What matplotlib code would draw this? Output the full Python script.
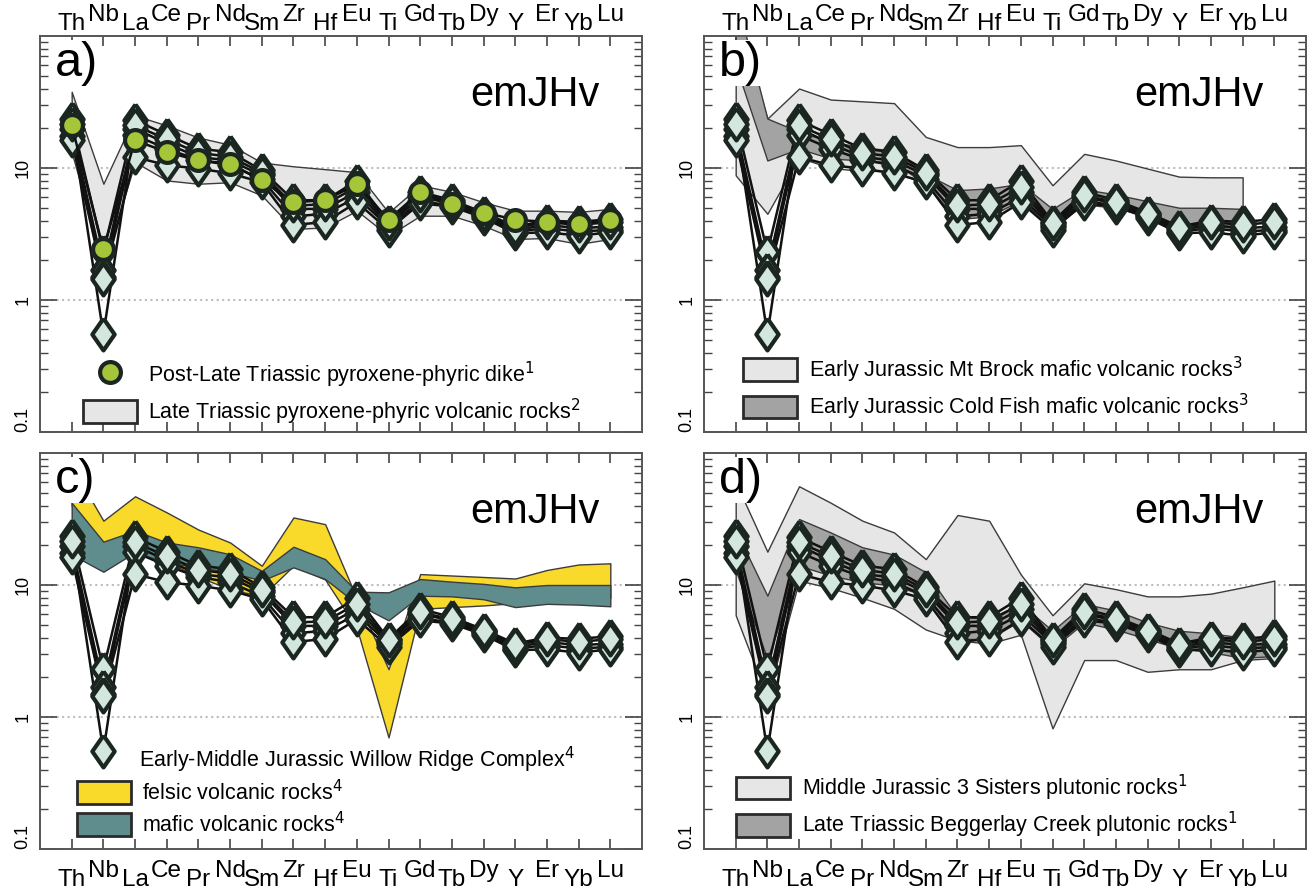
import numpy as np
import matplotlib
matplotlib.use('Agg')
import matplotlib.pyplot as plt
from matplotlib.patches import Patch
from matplotlib.lines import Line2D
from matplotlib.ticker import LogLocator, NullFormatter, FixedLocator, FixedFormatter

plt.rcParams['font.family'] = ['Liberation Sans Narrow', 'Liberation Sans', 'DejaVu Sans']

elements = ['Th', 'Nb', 'La', 'Ce', 'Pr', 'Nd', 'Sm', 'Zr', 'Hf', 'Eu',
            'Ti', 'Gd', 'Tb', 'Dy', 'Y', 'Er', 'Yb', 'Lu']
raised = [False, True] * 9
ytick_vals = [0.1, 1, 10]
ytick_labels = ['0.1', '1', '10']

# emJHv samples (diamonds)
emjhv_1 = [23.7, 2.3, 23.0, 17.9, 14.0, 13.2, 9.6, 5.7, 5.7, 8.0, 3.9, 6.6, 5.7, 4.6, 3.6, 4.0, 3.9, 4.1]
emjhv_2 = [19.9, 1.7, 19.9, 15.3, 12.1, 11.4, 8.8, 4.9, 4.9, 6.6, 3.7, 6.0, 5.4, 4.4, 3.4, 3.7, 3.5, 3.6]
emjhv_3 = [17.5, 1.5, 17.7, 14.0, 11.5, 10.5, 8.2, 4.3, 4.5, 6.0, 3.6, 5.6, 5.2, 4.3, 3.3, 3.5, 3.3, 3.4]
emjhv_4 = [16.2, 1.45, 12.1, 10.5, 9.9, 9.1, 7.8, 3.7, 3.9, 5.5, 3.4, 5.4, 5.1, 4.2, 3.2, 3.26, 3.07, 3.26]
emjhv_5 = [21.5, 0.55, 21.0, 16.5, 13.0, 12.2, 9.2, 5.2, 5.3, 7.2, 3.8, 6.2, 5.5, 4.5, 3.5, 3.9, 3.7, 3.9]
emjhv_samples = [emjhv_1, emjhv_2, emjhv_3, emjhv_4, emjhv_5]

# panel a: Post-Late Triassic pyroxene-phyric dike
dike = [21.1, 2.43, 16.2, 13.2, 11.4, 10.8, 8.05, 5.5, 5.7, 7.5, 4.06, 6.6, 5.35, 4.6, 4.06, 3.9, 3.77, 4.06]
# panel a: Late Triassic pyroxene-phyric volcanic rocks (range)
lt_volc_hi = [37.8, 7.6, 25.0, 21.0, 17.0, 15.0, 11.0, 10.3, 9.8, 9.3, 4.6, 7.4, 6.6, 5.5, 4.75, 4.75, 4.65, 4.9]
lt_volc_lo = [13.2, 1.8, 11.1, 8.05, 7.6, 7.8, 6.2, 3.45, 3.55, 4.75, 3.07, 4.35, 4.35, 3.66, 2.9, 2.95, 2.66, 2.9]

# panel b: Mt Brock and Cold Fish (no Lu)
brock_hi = [150, 23.7, 40, 33, 32, 31, 17.2, 14.4, 14.4, 14.9, 7.4, 12.8, 11.4, 9.9, 8.6, 8.5, 8.5, np.nan]
brock_lo = [8.8, 4.5, 12, 10, 9.5, 9.5, 7.5, 4.6, 4.6, 5.6, 3.6, 5.5, 5.2, 4.4, 3.6, 3.7, 3.6, np.nan]
coldfish_hi = [200, 23.7, 18.8, 15.8, 14.4, 13.5, 9.0, 6.8, 7.0, 7.6, 4.9, 6.9, 6.3, 5.6, 5.0, 5.0, 4.9, np.nan]
coldfish_lo = [60, 11.4, 14.0, 11.8, 11.4, 11.0, 7.5, 4.1, 4.3, 5.7, 3.6, 5.3, 5.0, 4.3, 3.5, 3.6, 3.5, np.nan]

# panel c: Willow Ridge Complex
felsic_hi = [80, 30.7, 47, 35.5, 26.3, 21, 14, 32.5, 28.9, 7.9, 2.3, 12.1, 11.8, 11.5, 11.2, 13.0, 14.3, 14.6]
felsic_lo = [40, 14, 20, 15, 11.5, 9.3, 8.2, 14, 11, 4.7, 0.70, 6.6, 6.8, 7.0, 7.3, 7.5, 7.8, 8.0]
mafic_hi = [42, 21.3, 25.8, 21, 19.3, 17.1, 12.8, 19.5, 15.7, 8.9, 8.8, 11.1, 10.6, 10.2, 9.6, 10.0, 10.0, 10.0]
mafic_lo = [17, 12.6, 17.7, 14.8, 13.6, 12.5, 10.8, 13.6, 11.1, 7.2, 5.4, 8.3, 8.2, 7.8, 6.8, 7.2, 7.1, 6.9]

# panel d: 3 Sisters and Beggerlay Creek plutonic rocks
sisters_hi = [60, 17.9, 56, 42, 30.7, 25, 15.7, 33.9, 30.7, 12, 5.9, 10.3, 9.3, 8.2, 8.2, 8.6, 9.6, 10.8]
sisters_lo = [5.9, 1.4, 10.8, 9.5, 8.0, 6.6, 4.6, 3.8, 3.6, 4.2, 0.82, 2.7, 2.7, 2.2, 2.3, 2.3, 2.7, 2.8]
begg_hi = [26, 8.3, 31.6, 25, 19.3, 17, 12.5, 5.7, 5.6, 7.2, 4.5, 7.2, 6.4, 5.2, 4.5, 4.3, 4.0, 3.9]
begg_lo = [13, 2.75, 14, 11.8, 10.5, 9.9, 8.3, 3.9, 3.9, 5.4, 3.3, 5.2, 4.6, 3.9, 3.3, 3.1, 2.8, 2.9]

# colours
C_DIAM = '#d3e7df'
C_EDGE = '#1c2620'
C_GREEN = '#a6c63a'
C_LIGHT = '#e6e6e6'
C_DARK = '#a3a3a3'
C_YELLOW = '#f9da2b'
C_TEAL = '#5f8c8c'
C_BAND_EDGE = '#3c3c3c'

diamond = [(0, 1), (0.7, 0), (0, -1), (-0.7, 0), (0, 1)]

fig = plt.figure(figsize=(13.08, 8.92), dpi=100)
W, H = 1308, 892
axes_px = {'a': (40, 36), 'b': (704, 36), 'c': (40, 453), 'd': (704, 453)}
AW, AH = 602, 396

x = np.arange(len(elements))

LEG_FS = 15.5
EL_FS = 17.5


def make_ax(key, top_labels):
    l, t = axes_px[key]
    ax = fig.add_axes([l / W, (H - t - AH) / H, AW / W, AH / H])
    ax.set_yscale('log')
    ax.set_ylim(0.1, 100)
    ax.set_xlim(-1, 18)
    ax.set_axisbelow(True)
    for s in ax.spines.values():
        s.set_color('#555555')
        s.set_linewidth(1.4)
    ax.set_xticks(x)
    ax.set_xticklabels([])
    ax.yaxis.set_major_locator(FixedLocator(ytick_vals))
    ax.yaxis.set_major_formatter(FixedFormatter(ytick_labels))
    ax.yaxis.set_minor_locator(LogLocator(base=10, subs=np.arange(2, 10)))
    ax.yaxis.set_minor_formatter(NullFormatter())
    ax.tick_params(axis='x', which='major', direction='in', length=7, width=1.2,
                   color='#444444', top=True, bottom=True, labelbottom=False, labeltop=False)
    ax.tick_params(axis='y', which='major', direction='in', length=12, width=1.2,
                   color='#444444', left=True, right=True, labelsize=13, pad=6)
    ax.tick_params(axis='y', which='minor', direction='in', length=6, width=1.0,
                   color='#444444', left=True, right=True)
    for lab in ax.get_yticklabels():
        lab.set_rotation(90)
        lab.set_va('center')
    ax.get_yticklabels()[0].set_va('bottom')
    ax.yaxis.grid(True, which='major', ls=':', color='#bdbdbd', lw=1.5)
    for i, el in enumerate(elements):
        if top_labels:
            dy = 10.5 if raised[i] else 4.5
            ax.annotate(el, xy=(i, 1), xycoords=('data', 'axes fraction'),
                        xytext=(0, dy), textcoords='offset points',
                        ha='center', va='baseline', fontsize=EL_FS)
        else:
            dy = -20.5 if raised[i] else -26.5
            ax.annotate(el, xy=(i, 0), xycoords=('data', 'axes fraction'),
                        xytext=(0, dy), textcoords='offset points',
                        ha='center', va='baseline', fontsize=EL_FS)
    ax.text(0.025, 0.988, key + ')', transform=ax.transAxes, fontsize=35,
            ha='left', va='top', zorder=6,
            bbox=dict(facecolor='white', edgecolor='none', pad=0.5))
    ax.text(0.93, 0.85, 'emJHv', transform=ax.transAxes, fontsize=30,
            ha='right', va='center', zorder=6)
    return ax


def band(ax, lo, hi, color, z=1):
    ax.fill_between(x, lo, hi, facecolor=color, edgecolor=C_BAND_EDGE, lw=1.0, zorder=z)


def samples(ax):
    for s in emjhv_samples:
        ax.plot(x, s, color='#111111', lw=1.8, zorder=3)
    for s in emjhv_samples:
        ax.plot(x, s, ls='none', marker=diamond, ms=23, mfc=C_DIAM, mec=C_EDGE,
                mew=3.0, zorder=4)


def patch(color):
    return Patch(facecolor=color, edgecolor='#2a2a2a', lw=2.0)


leg_kw = dict(loc='lower left', frameon=False, fontsize=LEG_FS, handlelength=2.5,
              handleheight=1.25, labelspacing=0.33, handletextpad=0.55,
              borderpad=0, borderaxespad=0)

# ---- a
ax = make_ax('a', True)
band(ax, lt_volc_lo, lt_volc_hi, C_LIGHT)
samples(ax)
ax.plot(x, dike, color='#111111', lw=1.8, zorder=5)
ax.plot(x, dike, ls='none', marker='o', ms=15, mfc=C_GREEN, mec=C_EDGE, mew=3.0, zorder=5)
h = [Line2D([], [], ls='none', marker='o', ms=15, mfc=C_GREEN, mec=C_EDGE, mew=3.0),
     patch(C_LIGHT)]
ax.legend(h, [r'Post-Late Triassic pyroxene-phyric dike$^{1}$',
              r'Late Triassic pyroxene-phyric volcanic rocks$^{2}$'],
          bbox_to_anchor=(0.071, 0.013), **leg_kw)

# ---- b
ax = make_ax('b', True)
band(ax, brock_lo, brock_hi, C_LIGHT)
band(ax, coldfish_lo, coldfish_hi, C_DARK)
samples(ax)
ax.legend([patch(C_LIGHT), patch(C_DARK)],
          [r'Early Jurassic Mt Brock mafic volcanic rocks$^{3}$',
           r'Early Jurassic Cold Fish mafic volcanic rocks$^{3}$'],
          bbox_to_anchor=(0.065, 0.025), **leg_kw)

# ---- c
ax = make_ax('c', False)
band(ax, felsic_lo, felsic_hi, C_YELLOW)
band(ax, mafic_lo, mafic_hi, C_TEAL)
samples(ax)
ax.legend([patch(C_YELLOW), patch(C_TEAL)],
          [r'felsic volcanic rocks$^{4}$', r'mafic volcanic rocks$^{4}$'],
          bbox_to_anchor=(0.061, 0.030), **leg_kw)
ax.text((139 - 40) / AW, (849 - 760) / AH,
        r'Early-Middle Jurassic Willow Ridge Complex$^{4}$',
        transform=ax.transAxes, fontsize=LEG_FS, ha='left', va='center')

# ---- d
ax = make_ax('d', False)
band(ax, sisters_lo, sisters_hi, C_LIGHT)
band(ax, begg_lo, begg_hi, C_DARK)
samples(ax)
ax.legend([patch(C_LIGHT), patch(C_DARK)],
          [r'Middle Jurassic 3 Sisters plutonic rocks$^{1}$',
           r'Late Triassic Beggerlay Creek plutonic rocks$^{1}$'],
          bbox_to_anchor=(0.053, 0.022), **leg_kw)

fig.savefig('out.png', dpi=100)
